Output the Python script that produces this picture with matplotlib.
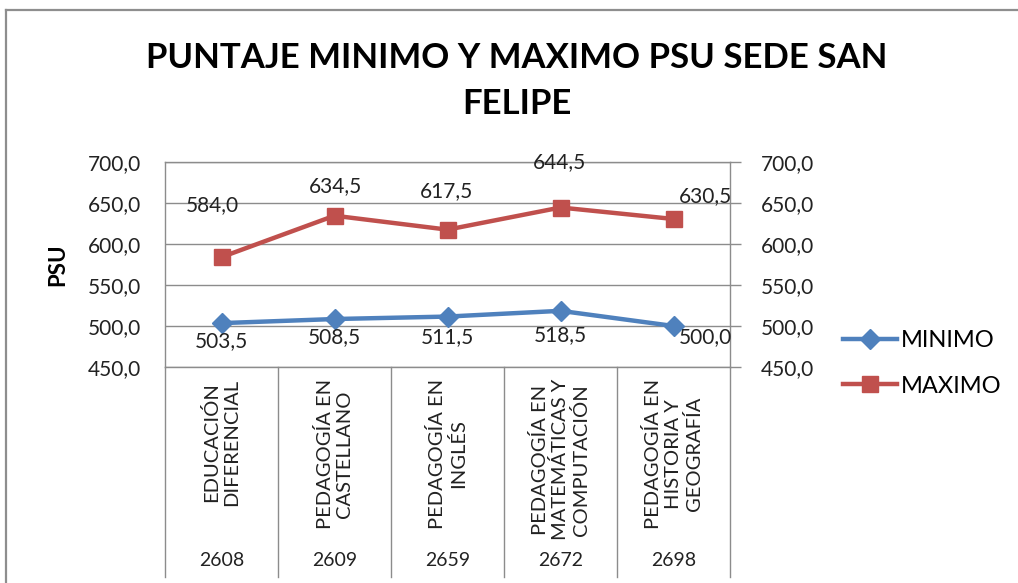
import matplotlib
matplotlib.use("Agg")
import matplotlib.pyplot as plt
import matplotlib.transforms as mtransforms
from matplotlib.lines import Line2D

# ---- data ----
categories = [
    "EDUCACIÓN\nDIFERENCIAL",
    "PEDAGOGÍA EN\nCASTELLANO",
    "PEDAGOGÍA EN\nINGLÉS",
    "PEDAGOGÍA EN\nMATEMÁTICAS Y\nCOMPUTACIÓN",
    "PEDAGOGÍA EN\nHISTORIA Y\nGEOGRAFÍA",
]
codes = ["2608", "2609", "2659", "2672", "2698"]
minimo = [503.5, 508.5, 511.5, 518.5, 500.0]
maximo = [584.0, 634.5, 617.5, 644.5, 630.5]
y_ticks = [450, 500, 550, 600, 650, 700]

# ---- label placement (pixel offsets from each point) ----
max_label_offsets = [(-9, 52), (1, 30), (-1, 39), (-1, 45), (32, 23)]
min_label_offsets = [(0, -18), (0, -18), (0, -21), (0, -24), (32, -11)]

BLUE = "#4F81BD"
RED = "#C0504D"
GRID = "#8C8C8C"
TEXT = "#222222"
FONT = "Lato"

plt.rcParams["font.family"] = [FONT, "DejaVu Sans"]


def fmt(v):
    return f"{v:.1f}".replace(".", ",")


W, H = 1018, 583
fig = plt.figure(figsize=(W / 100, H / 100), dpi=100)
fig.patch.set_facecolor("white")

# chart frame (left and top edges)
fig.add_artist(Line2D([6 / W, 6 / W], [0, 1 - 10 / H], transform=fig.transFigure,
                      color="#8E8E8E", lw=1.6))
fig.add_artist(Line2D([6 / W, 1], [1 - 10 / H, 1 - 10 / H], transform=fig.transFigure,
                      color="#8E8E8E", lw=1.6))

left, right, top, bottom = 165, 730, 162, 367
ax = fig.add_axes([left / W, 1 - bottom / H, (right - left) / W, (bottom - top) / H])

x = list(range(len(categories)))
ax.plot(x, minimo, color=BLUE, lw=3.2, marker="D", ms=10.5, mfc=BLUE, mec=BLUE,
        label="MINIMO", zorder=4)
ax.plot(x, maximo, color=RED, lw=3.2, marker="s", ms=12, mfc=RED, mec=RED,
        label="MAXIMO", zorder=4)

ax.set_xlim(-0.5, len(categories) - 0.5)
ax.set_ylim(y_ticks[0], y_ticks[-1])
ax.set_yticks(y_ticks)
ax.set_yticklabels([fmt(v) for v in y_ticks], fontsize=15)
ax.tick_params(axis="y", length=0, pad=17, colors=TEXT)
ax.set_xticks([])
ax.grid(axis="y", color=GRID, lw=1.0)
ax.set_axisbelow(True)
for s in ax.spines.values():
    s.set_color(GRID)
    s.set_linewidth(1.0)
ax.set_ylabel("PSU", fontsize=16, fontweight="bold", color="black")
ax.yaxis.set_label_coords(-(left - 68) / (right - left), 0.5)

# right-hand duplicate scale
ax2 = ax.twinx()
ax2.set_ylim(ax.get_ylim())
ax2.set_yticks(y_ticks)
ax2.set_yticklabels([fmt(v) for v in y_ticks], fontsize=15)
ax2.tick_params(axis="y", length=8, width=1.0, color=GRID, pad=14, labelcolor=TEXT)
for s in ax2.spines.values():
    s.set_visible(False)

# data labels
for i, (v, (dx, dy)) in enumerate(zip(maximo, max_label_offsets)):
    ax.annotate(fmt(v), (i, v), xytext=(dx, dy), textcoords="offset pixels",
                ha="center", va="center", fontsize=15, color=TEXT, zorder=6,
                annotation_clip=False)
for i, (v, (dx, dy)) in enumerate(zip(minimo, min_label_offsets)):
    ax.annotate(fmt(v), (i, v), xytext=(dx, dy), textcoords="offset pixels",
                ha="center", va="center", fontsize=15, color=TEXT, zorder=6,
                annotation_clip=False)

# category axis: separators, rotated names and codes below the plot
trans = mtransforms.blended_transform_factory(ax.transData, ax.transAxes)
sep_bottom = -(577 - bottom) / (bottom - top)
for b in [i - 0.5 for i in range(len(categories) + 1)]:
    ax.add_line(Line2D([b, b], [0, sep_bottom], transform=trans, color=GRID,
                       lw=1.0, clip_on=False))
name_top = -(379 - bottom) / (bottom - top)
code_y = -(560 - bottom) / (bottom - top)
for i, (name, code) in enumerate(zip(categories, codes)):
    ax.text(i, name_top, name, transform=trans, rotation=90, ha="center", va="top",
            multialignment="center", fontsize=14.5, color=TEXT, linespacing=1.2)
    ax.text(i, code_y, code, transform=trans, ha="center", va="center",
            fontsize=14, color=TEXT)

# title
fig.text(517 / W, 1 - 58 / H, "PUNTAJE MINIMO Y MAXIMO PSU SEDE SAN",
         ha="center", va="center", fontsize=25, fontweight="bold", color="black")
fig.text(517 / W, 1 - 104 / H, "FELIPE",
         ha="center", va="center", fontsize=25, fontweight="bold", color="black")

# legend
fig.legend(handles=ax.get_lines()[:2], labels=["MINIMO", "MAXIMO"],
           loc="upper left", bbox_to_anchor=(831 / W, 1 - 318 / H),
           frameon=False, fontsize=17, handlelength=2.3, handletextpad=0.15,
           labelspacing=1.05, borderpad=0)

fig.savefig("out.png", dpi=100, facecolor="white")
